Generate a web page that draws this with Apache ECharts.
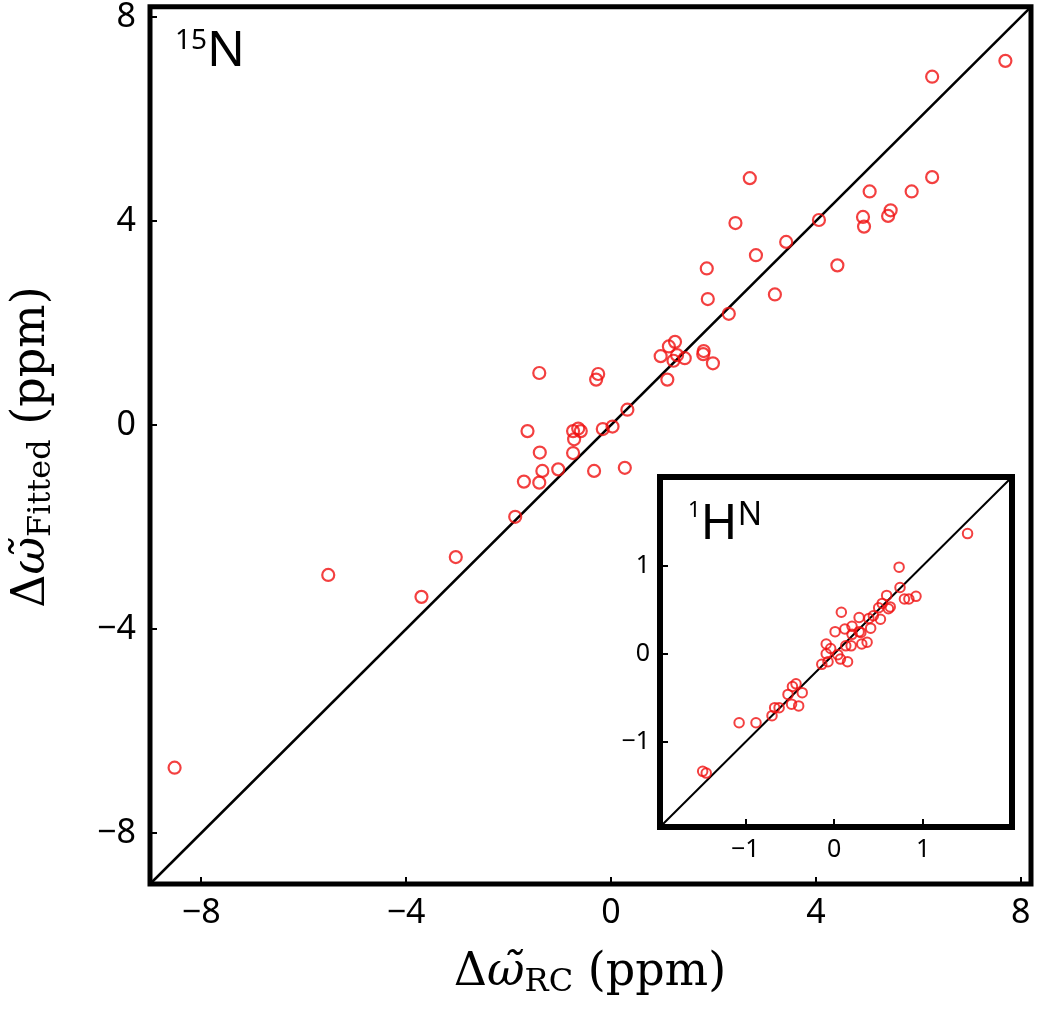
<!DOCTYPE html>
<html><head><meta charset="utf-8">
<script src="https://cdn.jsdelivr.net/npm/echarts@6/dist/echarts.min.js"></script>
<style>html,body{margin:0;padding:0;background:#fff}#c{width:1050px;height:1023px}</style>
</head><body><div id="c"></div>
<script>
// 15N: random-coil vs fitted shifts (ppm)
const n15X = [7.70, 6.27, 2.71, 6.27, 5.05, 5.87, 4.06, 4.92, 4.94, 5.46, 5.41, 2.43, 3.42, 2.83, 4.42, 1.87, 1.89, 3.20, 2.30,
  1.25, 1.13, 0.97, 1.29, 1.22, 1.44, 1.81, 1.80, 1.99, 1.10, -0.25, -0.29, -1.40, 0.32, 0.03, -0.16, -1.63, -0.74, -0.64,
  -0.59, -0.72, -1.39, -0.74, -1.34, -1.03, -0.33, 0.27, -1.70, -1.40, -1.87, -3.03, -5.52, -3.70, -8.52];
const n15Y = [7.14, 6.83, 4.84, 4.86, 4.58, 4.58, 4.02, 4.08, 3.89, 4.21, 4.10, 3.96, 3.59, 3.33, 3.13, 3.07, 2.47, 2.56, 2.18,
  1.63, 1.54, 1.35, 1.37, 1.26, 1.31, 1.45, 1.39, 1.21, 0.89, 1.00, 0.89, 1.02, 0.30, -0.03, -0.08, -0.12, -0.12, -0.07,
  -0.12, -0.28, -0.54, -0.55, -0.90, -0.87, -0.90, -0.84, -1.11, -1.13, -1.80, -2.59, -2.94, -3.37, -6.72];
// 1HN inset
const hX = [1.50, 0.73, 0.74, 0.79, 0.84, 0.92, 0.59, 0.54, 0.50, 0.63, 0.61, 0.44, 0.39, 0.28, 0.52, 0.41, 0.08, 0.20, 0.12,
  0.01, 0.28, 0.20, 0.30, 0.37, 0.31, 0.19, 0.13, -0.09, -0.04, -0.09, 0.04, 0.07, 0.15, -0.07, -0.14, -0.43, -0.47, -0.36,
  -0.52, -0.48, -0.40, -0.67, -0.62, -0.70, -1.07, -0.88, -1.48, -1.44];
const hY = [1.36, 0.98, 0.75, 0.62, 0.62, 0.65, 0.66, 0.57, 0.52, 0.53, 0.51, 0.43, 0.40, 0.41, 0.39, 0.29, 0.47, 0.31, 0.28,
  0.25, 0.25, 0.22, 0.24, 0.13, 0.11, 0.09, 0.09, 0.11, 0.06, 0.00, -0.01, -0.06, -0.09, -0.09, -0.12, -0.34, -0.37, -0.44,
  -0.46, -0.57, -0.59, -0.61, -0.61, -0.70, -0.78, -0.78, -1.33, -1.35];
const mainTicks = [-8, -4, 0, 4, 8];
const insetTicks = [-1, 0, 1];
const mainRange = [-9, 8.2];
const insetRange = [-1.96, 2.0];

const RED = '#f01010';
const SANS = '"Noto Sans", "Open Sans", sans-serif';
const SERIF = '"DejaVu Serif", serif';
const fmt = v => String(v).replace('-', '\u2212');
const zip = (a, b) => a.map((v, i) => [v, b[i]]);

function axis(grid, range, ticks, fs, margin, tickLen) {
  return {
    type: 'value', gridIndex: grid, min: range[0], max: range[1],
    axisLine: { show: false, onZero: false },
    splitLine: { show: false },
    axisTick: { show: true, inside: true, length: tickLen, customValues: ticks, lineStyle: { color: '#000', width: 2 } },
    axisLabel: { show: true, customValues: ticks, formatter: fmt, fontSize: fs, fontFamily: SANS, color: '#000', margin: margin }
  };
}

const chart = echarts.init(document.getElementById('c'), null, { renderer: 'canvas' });
chart.setOption({
  animation: false,
  backgroundColor: '#fff',
  grid: [
    { left: 150, top: 4, width: 881, height: 880, show: true, borderColor: '#000', borderWidth: 5, backgroundColor: 'rgba(0,0,0,0)' },
    { left: 660, top: 477, width: 352, height: 350, show: true, borderColor: '#000', borderWidth: 6, backgroundColor: '#fff', z: 5 }
  ],
  xAxis: [axis(0, mainRange, mainTicks, 34, 12, 7), Object.assign(axis(1, insetRange, insetTicks, 25, 10, 8), { z: 6 })],
  yAxis: [axis(0, mainRange, mainTicks, 34, 14, 7), Object.assign(axis(1, insetRange, insetTicks, 25, 10, 8), { z: 6 })],
  series: [
    { type: 'line', xAxisIndex: 0, yAxisIndex: 0, data: [[mainRange[0], mainRange[0]], [mainRange[1], mainRange[1]]],
      symbol: 'none', silent: true, lineStyle: { color: '#000', width: 2.5 }, z: 2 },
    { type: 'scatter', xAxisIndex: 0, yAxisIndex: 0, data: zip(n15X, n15Y), symbol: 'circle', symbolSize: 12,
      itemStyle: { color: 'rgba(0,0,0,0)', borderColor: RED, borderWidth: 2.2 }, z: 3 },
    { type: 'line', xAxisIndex: 1, yAxisIndex: 1, data: [[insetRange[0], insetRange[0]], [insetRange[1], insetRange[1]]],
      symbol: 'none', silent: true, lineStyle: { color: '#000', width: 2 }, z: 6 },
    { type: 'scatter', xAxisIndex: 1, yAxisIndex: 1, data: zip(hX, hY), symbol: 'circle', symbolSize: 9.5,
      itemStyle: { color: 'rgba(0,0,0,0)', borderColor: RED, borderWidth: 2 }, z: 7 }
  ],
  graphic: [
    { type: 'text', x: 175, y: 27, z: 10, style: { text: '{s|15}{b|N}', verticalAlign: 'top', align: 'left',
        rich: { s: { fontSize: 28, fontFamily: SANS, lineHeight: 30, verticalAlign: 'top', fill: '#000' },
                b: { fontSize: 50, fontFamily: SANS, lineHeight: 50, fill: '#000' } } } },
    { type: 'text', x: 688, y: 500, z: 10, style: { text: '{s|1}{b|H}{n|N}', verticalAlign: 'top', align: 'left',
        rich: { s: { fontSize: 22, fontFamily: SANS, lineHeight: 26, verticalAlign: 'top', fill: '#000' },
                b: { fontSize: 50, fontFamily: SANS, lineHeight: 50, fill: '#000' },
                n: { fontSize: 32, fontFamily: SANS, lineHeight: 32, verticalAlign: 'top', fill: '#000' } } } },
    { type: 'text', x: 590, y: 973, z: 10, style: { text: '{d|\u0394}{w|\u03C9\u0303}{s|RC}{d| (ppm)}', align: 'center', verticalAlign: 'middle',
        rich: { d: { fontSize: 46, fontFamily: SERIF, lineHeight: 52, fill: '#000' },
                w: { fontSize: 46, fontFamily: SERIF, fontStyle: 'italic', lineHeight: 52, fill: '#000' },
                s: { fontSize: 32, fontFamily: SERIF, lineHeight: 26, verticalAlign: 'bottom', fill: '#000' } } } },
    { type: 'text', x: 32, y: 447, rotation: Math.PI / 2, z: 10, style: { text: '{d|\u0394}{w|\u03C9\u0303}{s|Fitted}{d| (ppm)}', align: 'center', verticalAlign: 'middle',
        rich: { d: { fontSize: 46, fontFamily: SERIF, lineHeight: 52, fill: '#000' },
                w: { fontSize: 46, fontFamily: SERIF, fontStyle: 'italic', lineHeight: 52, fill: '#000' },
                s: { fontSize: 32, fontFamily: SERIF, lineHeight: 26, verticalAlign: 'bottom', fill: '#000' } } } }
  ]
});
</script></body></html>
